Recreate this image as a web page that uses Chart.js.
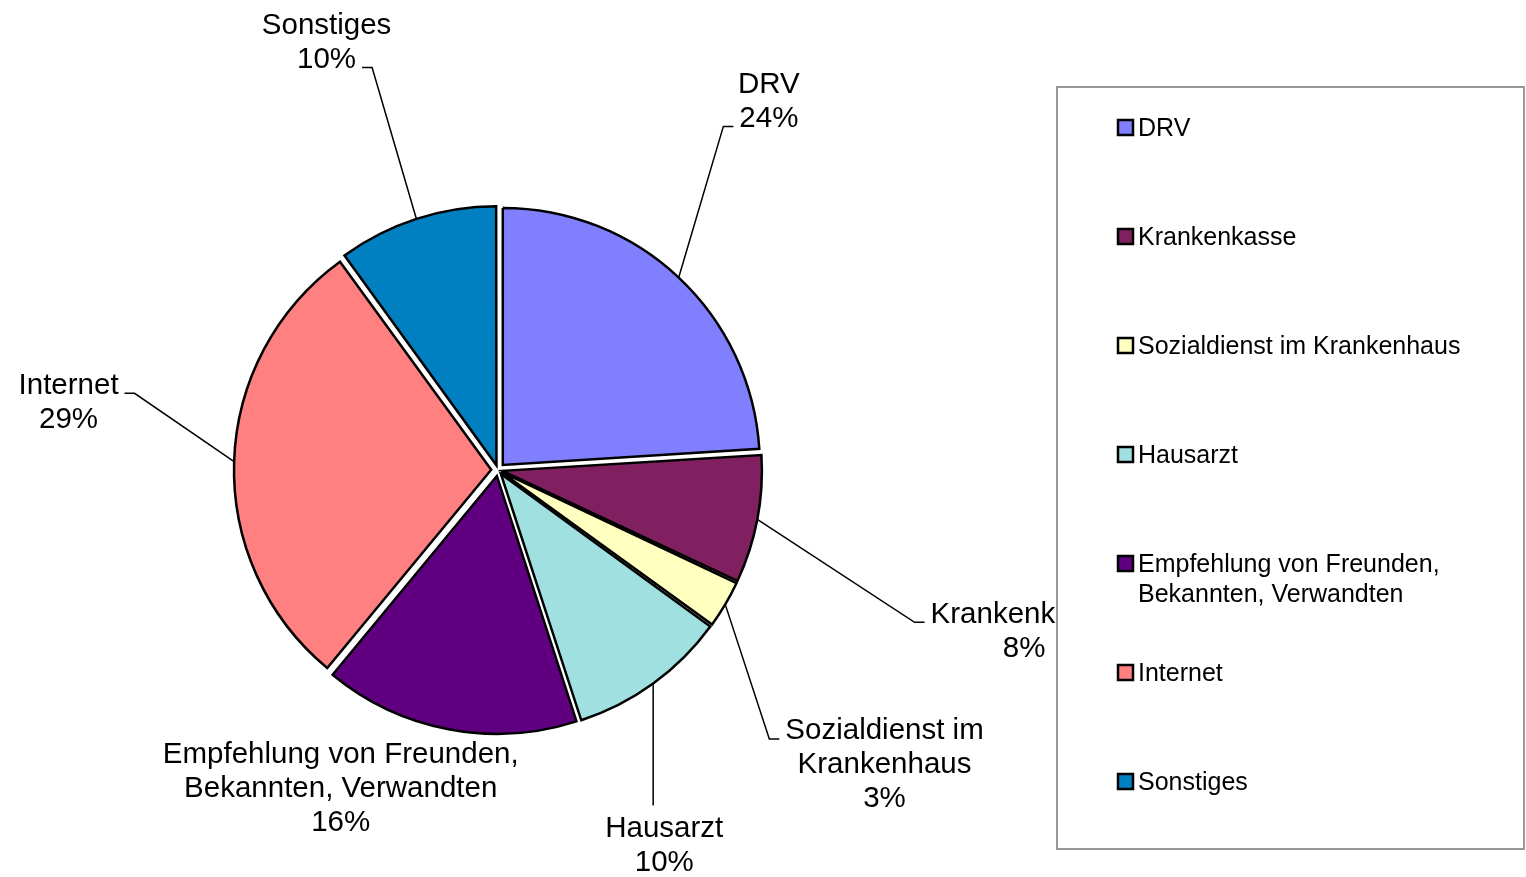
<!DOCTYPE html>
<html>
<head>
<meta charset="utf-8">
<script src="https://cdn.jsdelivr.net/npm/chart.js@4.4.0/dist/chart.umd.min.js"></script>
<style>
  html, body { margin: 0; padding: 0; background: #fff; }
  #wrap { width: 1526px; height: 877px; position: relative; }
</style>
</head>
<body>
<div id="wrap"><canvas id="pieChart"></canvas></div>
<script>
// data
var categories = ['DRV', 'Krankenkasse', 'Sozialdienst im Krankenhaus', 'Hausarzt',
    'Empfehlung von Freunden, Bekannten, Verwandten', 'Internet', 'Sonstiges'];
var shares = [24, 8, 3, 10, 16, 29, 10];
var sliceColors = ['#8080ff', '#802060', '#ffffc0', '#a0e0e0', '#600080', '#ff8080', '#0080c0'];

// label placement, in units of the pie radius from its centre
var labelLayout = [
    { dx: 1.054, dy: -1.442, side: 'left', line: 1 },
    { dx: 2.047, dy: 0.620, side: 'left', line: 0 },
    { dx: 1.504, dy: 1.140, side: 'left', line: 0 },
    { dx: 0.647, dy: 1.453, side: 'top' },
    { dx: -0.612, dy: 1.233, side: 'none' },
    { dx: -1.671, dy: -0.271, side: 'right', line: 0 },
    { dx: -0.667, dy: -1.671, side: 'right', line: 1 }
];

var EXPLODE = 7;      // px each slice is pulled out
var LINE_H = 34;
var FONT = '"Liberation Sans", Arial, sans-serif';
var legendBox = { x: 1057, y: 87, w: 467, h: 762, firstY: 127, step: 109 };

var total = shares.reduce(function(a, b) { return a + b; }, 0);

function wrapText(ctx, text, maxWidth) {
    var words = text.split(' '), lines = [], line = '';
    words.forEach(function(w) {
        var test = line ? line + ' ' + w : w;
        if (line && ctx.measureText(test).width > maxWidth) {
            lines.push(line);
            line = w;
        } else {
            line = test;
        }
    });
    if (line) lines.push(line);
    return lines;
}

// chart.js pushes small slices further out, so scale the offset to get an even gap
function sliceOffset(c) {
    var v = c.raw;
    if (v === undefined) return 4 * EXPLODE;
    var circ = v / total * Math.PI * 2;
    var fix = 1 - Math.sin(Math.min(Math.PI, circ));
    return 4 * EXPLODE / (1 + fix);
}

var labelsAndLegend = {
    id: 'labelsAndLegend',
    afterDraw: function(chart) {
        var ctx = chart.ctx;
        var meta = chart.getDatasetMeta(0);
        ctx.save();
        ctx.font = '29.5px ' + FONT;
        ctx.fillStyle = '#000';
        ctx.strokeStyle = '#000';
        ctx.lineWidth = 1.5;
        ctx.textAlign = 'center';
        ctx.textBaseline = 'alphabetic';

        meta.data.forEach(function(arc, i) {
            var p = arc.getProps(['x', 'y', 'startAngle', 'endAngle', 'outerRadius'], true);
            var lay = labelLayout[i];
            var lines = wrapText(ctx, categories[i], 368);
            lines.push(Math.round(shares[i] / total * 100) + '%');
            var cx = p.x + lay.dx * p.outerRadius;
            var cy = p.y + lay.dy * p.outerRadius;
            var top = cy - lines.length * LINE_H / 2;
            lines.forEach(function(t, k) {
                ctx.fillText(t, cx, top + LINE_H * (k + 0.5) + 10.5);
            });

            if (lay.side === 'none') return;
            var ang = (p.startAngle + p.endAngle) / 2;
            var rr = p.outerRadius + EXPLODE;
            var ax = p.x + Math.cos(ang) * rr;
            var ay = p.y + Math.sin(ang) * rr;
            ctx.beginPath();
            ctx.moveTo(ax, ay);
            if (lay.side === 'top') {
                ctx.lineTo(ax, top - 4);
            } else {
                var w = ctx.measureText(lines[lay.line]).width;
                var ly = top + LINE_H * (lay.line + 0.5) + 10;
                var endX;
                if (lay.side === 'left') {
                    endX = cx - w / 2 - 6;
                    ctx.lineTo(endX - 10, ly);
                } else {
                    endX = cx + w / 2 + 6;
                    ctx.lineTo(endX + 10, ly);
                }
                ctx.lineTo(endX, ly);
            }
            ctx.stroke();
        });

        // legend box (drawn last, it covers the end of the Krankenkasse label)
        var b = legendBox;
        ctx.fillStyle = '#fff';
        ctx.fillRect(b.x, b.y, b.w, b.h);
        ctx.strokeStyle = '#999';
        ctx.lineWidth = 2;
        ctx.strokeRect(b.x, b.y, b.w, b.h);

        ctx.font = '25px ' + FONT;
        ctx.textAlign = 'left';
        categories.forEach(function(name, i) {
            var y = b.firstY + i * b.step;
            ctx.fillStyle = sliceColors[i];
            ctx.fillRect(b.x + 61, y - 7, 15, 15);
            ctx.strokeStyle = '#000';
            ctx.lineWidth = 2.5;
            ctx.strokeRect(b.x + 61, y - 7, 15, 15);
            ctx.fillStyle = '#000';
            wrapText(ctx, name, 340).forEach(function(t, k) {
                ctx.fillText(t, b.x + 81, y + 9 + k * 30);
            });
        });
        ctx.restore();
    }
};

new Chart(document.getElementById('pieChart').getContext('2d'), {
    type: 'pie',
    data: {
        labels: categories,
        datasets: [{
            data: shares,
            backgroundColor: sliceColors,
            borderColor: '#000',
            borderWidth: 2.5,
            borderJoinStyle: 'miter',
            offset: sliceOffset
        }]
    },
    options: {
        responsive: true,
        maintainAspectRatio: false,
        animation: false,
        radius: 257,
        layout: { padding: { left: 0, right: 530, top: 63, bottom: 0 } },
        plugins: {
            legend: { display: false },
            tooltip: { enabled: false }
        }
    },
    plugins: [labelsAndLegend]
});
</script>
</body>
</html>
